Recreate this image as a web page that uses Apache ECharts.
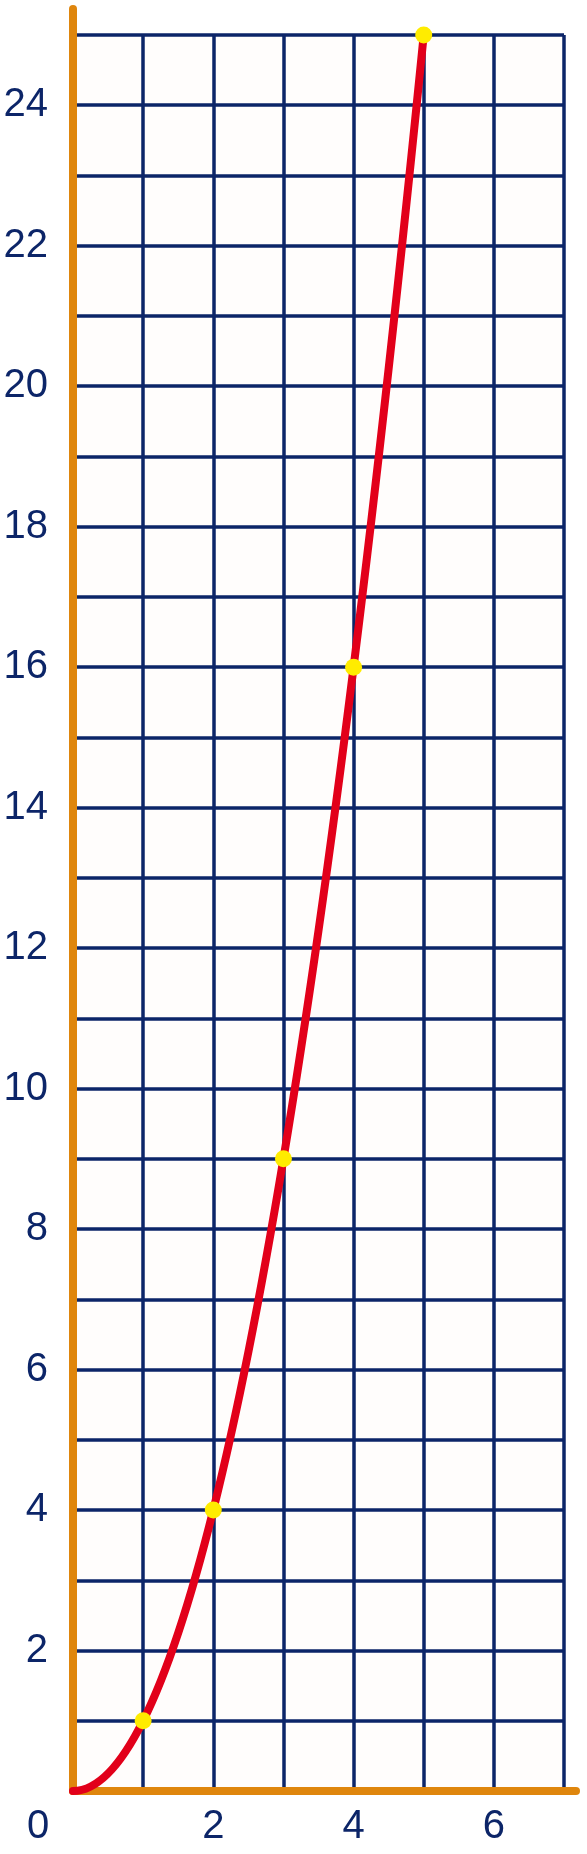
<!DOCTYPE html>
<html>
<head>
<meta charset="utf-8">
<title>y = x²</title>
<script src="https://cdn.jsdelivr.net/npm/echarts@6/dist/echarts.min.js"></script>
<style>
  html, body { margin: 0; padding: 0; background: #ffffff; }
  #chart { width: 587px; height: 1854px; }
</style>
</head>
<body>
<div id="chart"></div>
<script>
// data
var xValues = [0, 1, 2, 3, 4, 5];
var yValues = [0, 1, 4, 9, 16, 25];
var xRange = [0, 7];
var yRange = [0, 25];

var navy = "#0c2568";
var orange = "#df860d";
var red = "#e2001a";
var font = "Liberation Sans, Arial, sans-serif";

// tangent at each point from its neighbours (3-point estimate at the ends)
function slopeAt(i) {
  var n = xValues.length;
  if (i === 0) {
    var h0 = xValues[1] - xValues[0];
    return (-3 * yValues[0] + 4 * yValues[1] - yValues[2]) / (2 * h0);
  }
  if (i === n - 1) {
    var h1 = xValues[n - 1] - xValues[n - 2];
    return (3 * yValues[n - 1] - 4 * yValues[n - 2] + yValues[n - 3]) / (2 * h1);
  }
  return (yValues[i + 1] - yValues[i - 1]) / (xValues[i + 1] - xValues[i - 1]);
}

var curveData = xValues.map(function (x, i) { return [x, yValues[i]]; });
var dotData = curveData.slice(1);

// one bezier segment from point i to point i+1
function renderSegment(params, api) {
  var i = params.dataIndex;
  if (i >= xValues.length - 1) return null;
  var h = xValues[i + 1] - xValues[i];
  var p0 = api.coord([xValues[i], yValues[i]]);
  var p1 = api.coord([xValues[i + 1], yValues[i + 1]]);
  var c0 = api.coord([xValues[i] + h / 3, yValues[i] + slopeAt(i) * h / 3]);
  var c1 = api.coord([xValues[i + 1] - h / 3, yValues[i + 1] - slopeAt(i + 1) * h / 3]);
  return {
    type: "bezierCurve",
    shape: {
      x1: p0[0], y1: p0[1],
      x2: p1[0], y2: p1[1],
      cpx1: c0[0], cpy1: c0[1],
      cpx2: c1[0], cpy2: c1[1]
    },
    style: { stroke: red, lineWidth: 8, fill: null, lineCap: "round" }
  };
}

var myChart = echarts.init(document.getElementById("chart"));
myChart.setOption({
  backgroundColor: "#ffffff",
  animation: false,
  grid: {
    left: 73,
    top: 35,
    width: 491,
    height: 1756,
    show: true,
    backgroundColor: "#fffdfc",
    borderWidth: 0
  },
  xAxis: {
    type: "value",
    min: xRange[0],
    max: xRange[1],
    interval: 1,
    axisLine: {
      show: true,
      onZero: false,
      symbol: ["none", "path://M4,0A4,4,0,0,1,8,4L8,16A4,4,0,0,1,0,16L0,4A4,4,0,0,1,4,0Z"],
      symbolSize: [8, 20],
      symbolOffset: [0, 6],
      lineStyle: { color: orange, width: 8, cap: "round" }
    },
    axisTick: { show: false },
    axisLabel: {
      show: true,
      showMinLabel: true,
      showMaxLabel: true,
      margin: 16,
      color: navy,
      fontFamily: font,
      fontSize: 40,
      formatter: function (v) {
        if (v === 0) return "{z|0}";
        return v % 2 === 0 ? String(v) : "";
      },
      rich: {
        z: {
          color: navy,
          fontFamily: font,
          fontSize: 40,
          padding: [0, 70, 0, 0]
        }
      }
    },
    splitLine: {
      show: true,
      lineStyle: { color: navy, width: 3.5 }
    }
  },
  yAxis: {
    type: "value",
    min: yRange[0],
    max: yRange[1],
    interval: 1,
    axisLine: {
      show: true,
      onZero: false,
      symbol: ["none", "path://M4,0A4,4,0,0,1,8,4L8,30A4,4,0,0,1,0,30L0,4A4,4,0,0,1,4,0Z"],
      symbolSize: [8, 34],
      symbolOffset: [0, 13],
      lineStyle: { color: orange, width: 8, cap: "round" }
    },
    axisTick: { show: false },
    axisLabel: {
      show: true,
      showMinLabel: true,
      showMaxLabel: true,
      margin: 25,
      color: navy,
      fontFamily: font,
      fontSize: 40,
      formatter: function (v) {
        if (v === 0) return "";
        return v % 2 === 0 ? String(v) : "";
      }
    },
    splitLine: {
      show: true,
      lineStyle: { color: navy, width: 3.5 }
    }
  },
  series: [
    {
      type: "custom",
      data: curveData,
      encode: { x: 0, y: 1 },
      renderItem: renderSegment,
      clip: false,
      z: 5
    },
    {
      type: "scatter",
      data: dotData,
      symbol: "circle",
      symbolSize: 17,
      clip: false,
      z: 6,
      itemStyle: { color: "#ffec00", borderWidth: 0, opacity: 1 }
    }
  ]
});
</script>
</body>
</html>
